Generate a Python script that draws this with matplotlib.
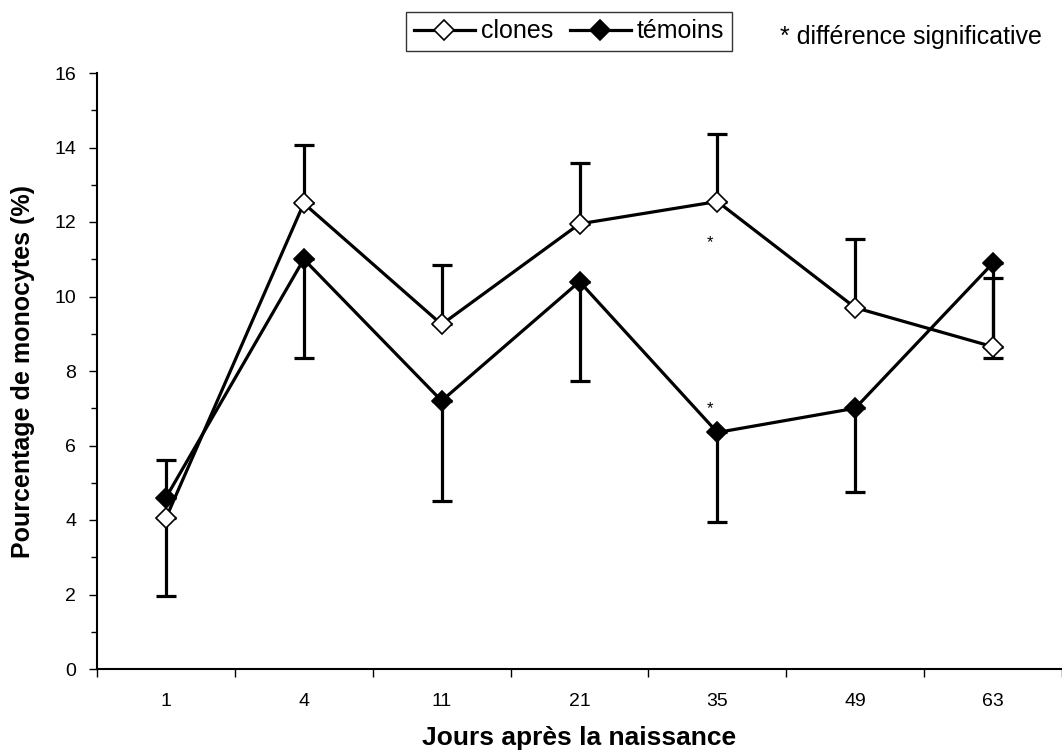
import matplotlib
matplotlib.use("Agg")
import matplotlib.pyplot as plt
from matplotlib.ticker import FixedLocator, MultipleLocator

plt.rcParams['font.family'] = ['Liberation Sans', 'DejaVu Sans']

days = ["1", "4", "11", "21", "35", "49", "63"]
clones = [4.05, 12.5, 9.25, 11.95, 12.55, 9.7, 8.65]
clones_err = [2.09, 1.57, 1.6, 1.63, 1.8, 1.85, 1.85]
temoins = [4.6, 11.0, 7.2, 10.4, 6.35, 7.0, 10.9]
temoins_err = [1.02, 2.65, 2.7, 2.67, 2.4, 2.25, 2.55]
star_vals = [11.44, 7.0]
star_idx = 4

fig = plt.figure(figsize=(10.62, 7.53), dpi=100)
ax = fig.add_axes([97/1062, 1-669/753, 1-97/1062, (669-73)/753])

x = list(range(len(days)))
# clones: error down at first point, up elsewhere
c_lo = [clones_err[0]] + [0]*(len(days)-1)
c_hi = [0] + clones_err[1:]
t_lo = [0] + temoins_err[1:]
t_hi = [temoins_err[0]] + [0]*(len(days)-1)

ax.errorbar(x, clones, yerr=[c_lo, c_hi], fmt='none', ecolor='black',
            elinewidth=2.3, capsize=7, capthick=2.3, zorder=2)
ax.errorbar(x, temoins, yerr=[t_lo, t_hi], fmt='none', ecolor='black',
            elinewidth=2.3, capsize=7, capthick=2.3, zorder=2)
l1, = ax.plot(x, clones, color='black', lw=2.3, marker='D', ms=10,
              mfc='white', mec='black', mew=1.2, zorder=3, label='clones')
l2, = ax.plot(x, temoins, color='black', lw=2.3, marker='D', ms=10,
              mfc='black', mec='black', mew=1.2, zorder=3, label='témoins')

for v in star_vals:
    ax.text(star_idx - 0.05, v, '*', ha='center', va='center', fontsize=12)

ax.set_xlim(-0.5, 6.5)
ax.set_ylim(0, 16)
ax.spines['top'].set_visible(False)
ax.spines['right'].set_visible(False)
for s in ['left', 'bottom']:
    ax.spines[s].set_linewidth(1.5)

ax.xaxis.set_major_locator(FixedLocator(x))
ax.set_xticklabels(days)
ax.xaxis.set_minor_locator(FixedLocator([i - 0.5 for i in range(len(days) + 1)]))
ax.tick_params(axis='x', which='major', length=0, pad=17, labelsize=14)
ax.tick_params(axis='x', which='minor', length=6, width=1, direction='out')
ax.yaxis.set_major_locator(MultipleLocator(2))
ax.yaxis.set_minor_locator(MultipleLocator(1))
ax.tick_params(axis='y', which='major', length=6, width=1, labelsize=14, pad=9)
ax.tick_params(axis='y', which='minor', length=4, width=1)

ax.set_xlabel('Jours après la naissance', fontsize=19, fontweight='bold', labelpad=12)
ax.set_ylabel('Pourcentage de monocytes (%)', fontsize=18, fontweight='bold', labelpad=14)

leg = fig.legend(handles=[l1, l2], loc='upper left', bbox_to_anchor=(406/1062, 1 - 12/753),
                 ncol=2, frameon=True, fancybox=False, fontsize=18, handlelength=2.45,
                 handletextpad=0.25, columnspacing=0.65, borderpad=0.3, borderaxespad=0)
leg.get_frame().set_edgecolor('black')
leg.get_frame().set_linewidth(1.0)
fig.text(780/1062, 1 - 37/753, '* différence significative', fontsize=18,
         ha='left', va='center')

fig.savefig('out.png', dpi=100)
